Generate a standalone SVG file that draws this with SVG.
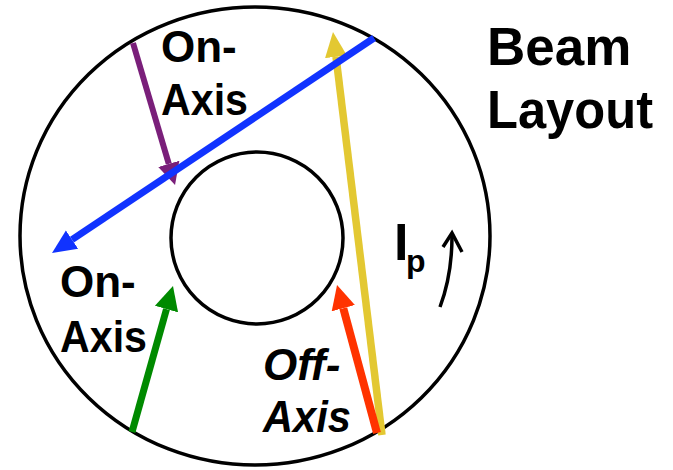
<svg xmlns="http://www.w3.org/2000/svg" width="673" height="470" viewBox="0 0 673 470">
<style>
.ring{fill:none;stroke:#000;stroke-width:3.5}
.lbl{font-family:"Liberation Sans",Arial,sans-serif;font-weight:bold;font-size:44px;fill:#000}
.it{font-style:italic}
.title{font-size:53px}
.beam{fill:none;stroke-linecap:butt}
</style>
<defs>
<marker id="hb" markerUnits="userSpaceOnUse" viewBox="0 -13 26 26" refX="0" refY="0" markerWidth="26" markerHeight="26" orient="auto"><path d="M0,-11 L24,0 L0,11 Z" fill="#1133FF"/></marker>
<marker id="hp" markerUnits="userSpaceOnUse" viewBox="0 -13 26 26" refX="0" refY="0" markerWidth="26" markerHeight="26" orient="auto"><path d="M0,-11 L22,0 L0,11 Z" fill="#7A1F7A"/></marker>
<marker id="hy" markerUnits="userSpaceOnUse" viewBox="0 -13 26 26" refX="0" refY="0" markerWidth="26" markerHeight="26" orient="auto"><path d="M0,-11 L25,0 L0,11 Z" fill="#E3C832"/></marker>
<marker id="hr" markerUnits="userSpaceOnUse" viewBox="0 -13 26 26" refX="0" refY="0" markerWidth="26" markerHeight="26" orient="auto"><path d="M0,-12 L24,0 L0,12 Z" fill="#FF3300"/></marker>
<marker id="hg" markerUnits="userSpaceOnUse" viewBox="0 -13 26 26" refX="0" refY="0" markerWidth="26" markerHeight="26" orient="auto"><path d="M0,-12 L24,0 L0,12 Z" fill="#008A00"/></marker>
</defs>
<rect width="673" height="470" fill="#fff"/>
<g id="outer-wall"><ellipse class="ring" cx="255" cy="236" rx="235" ry="229"/></g>
<g id="inner-wall"><circle class="ring" cx="257" cy="238" r="86"/></g>
<g id="connectors">
<line class="beam" x1="133" y1="43" x2="168.8" y2="163.9" stroke="#7A1F7A" stroke-width="6" marker-end="url(#hp)"/>
<line class="beam" x1="382" y1="435" x2="336" y2="56.8" stroke="#E3C832" stroke-width="7.5" marker-end="url(#hy)"/>
<line class="beam" x1="377" y1="433" x2="343.3" y2="308.2" stroke="#FF3300" stroke-width="8" marker-end="url(#hr)"/>
<line class="beam" x1="132" y1="432" x2="166.5" y2="309.1" stroke="#008A00" stroke-width="7" marker-end="url(#hg)"/>
<line class="beam" x1="374" y1="38" x2="72" y2="239.7" stroke="#1133FF" stroke-width="7" marker-end="url(#hb)"/>
</g>
<g id="ip">
<path d="M440,307 Q452,275 452,236" fill="none" stroke="#000" stroke-width="3.5"/>
<path d="M443,247 L452,233 L462,252" fill="none" stroke="#000" stroke-width="3.5"/>
<text class="lbl" x="394" y="260" style="font-size:52px">I</text>
<text class="lbl" x="406" y="272" style="font-size:32px">p</text>
</g>
<g id="label-on-axis-top"><text class="lbl" x="161" y="62">On-</text><text class="lbl" x="161" y="115" textLength="87" lengthAdjust="spacingAndGlyphs">Axis</text></g>
<g id="label-on-axis-left"><text class="lbl" x="60" y="297">On-</text><text class="lbl" x="60" y="352" textLength="87" lengthAdjust="spacingAndGlyphs">Axis</text></g>
<g id="label-off-axis"><text class="lbl it" x="263" y="380">Off-</text><text class="lbl it" x="263" y="432" textLength="88" lengthAdjust="spacingAndGlyphs">Axis</text></g>
<g id="title"><text class="lbl title" x="487" y="65">Beam</text><text class="lbl title" x="487" y="128" textLength="166" lengthAdjust="spacingAndGlyphs">Layout</text></g>
</svg>
